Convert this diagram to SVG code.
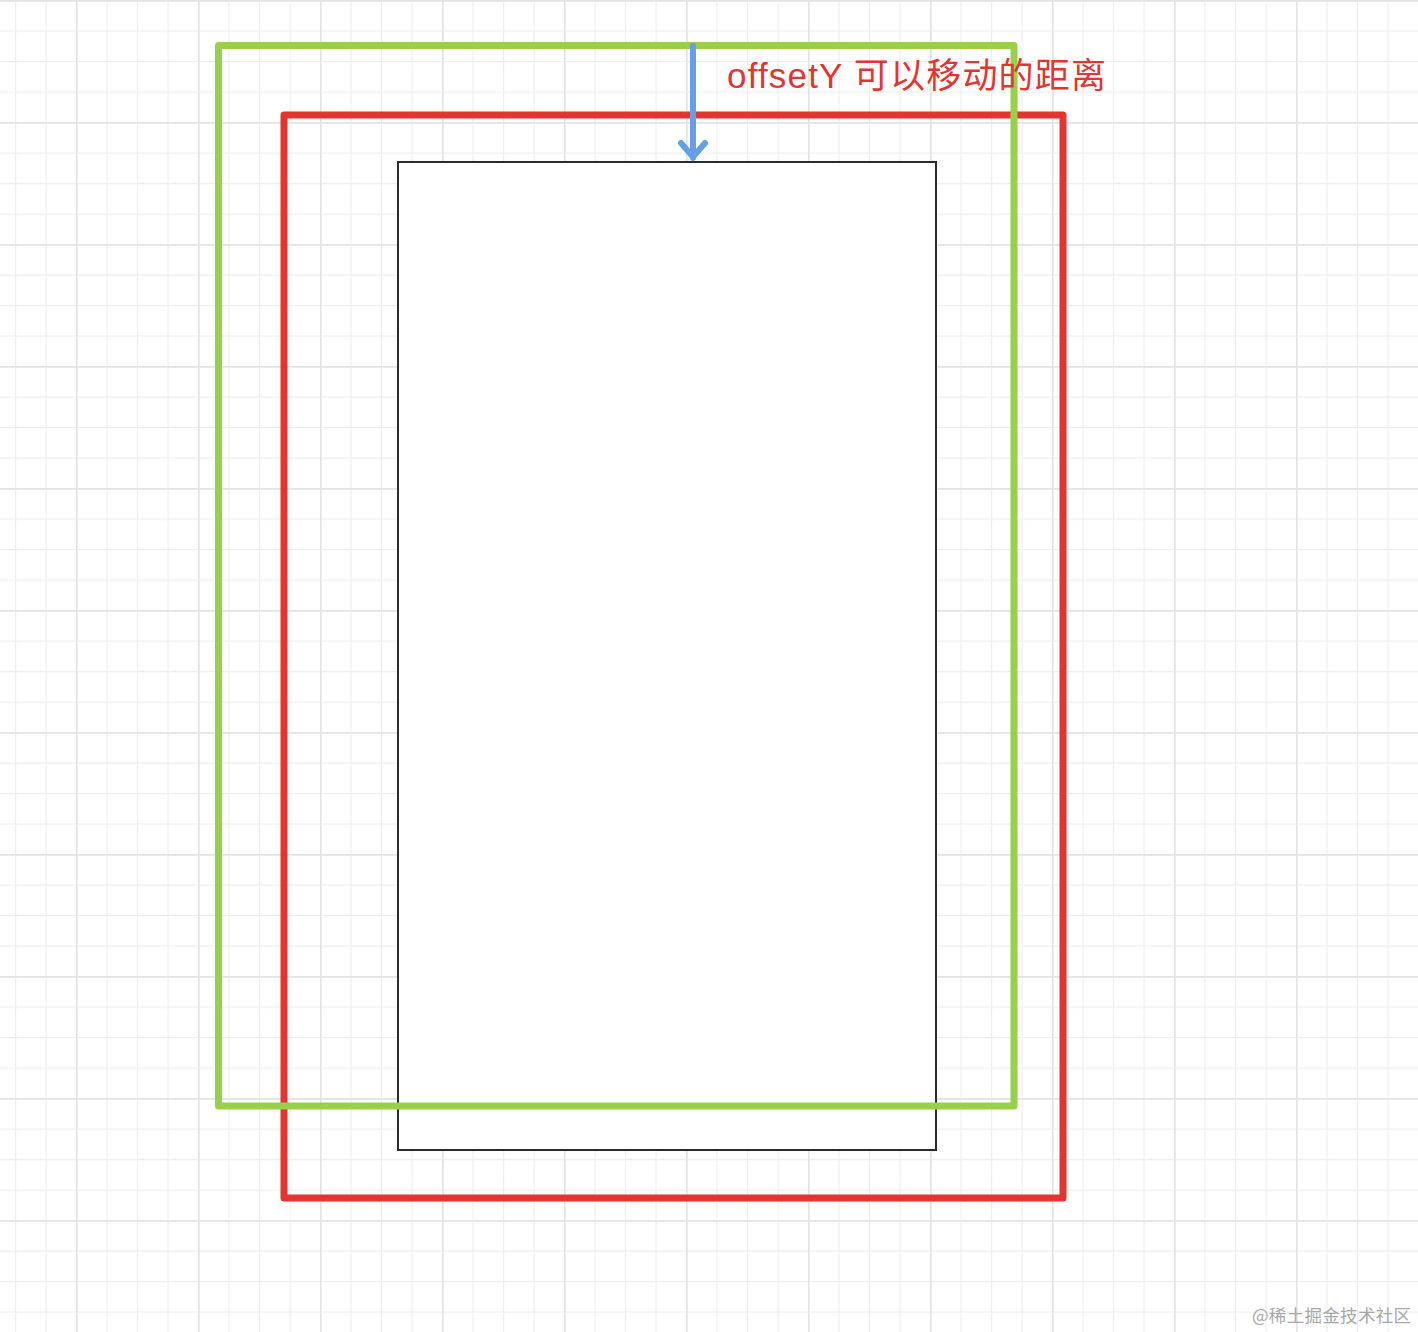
<svg xmlns="http://www.w3.org/2000/svg" width="1418" height="1332" viewBox="0 0 1418 1332">
<defs>
<pattern id="minor" x="15" y="0" width="30.5" height="30.5" patternUnits="userSpaceOnUse">
<path d="M0.5 0 V30.5 M0 0.5 H30.5" fill="none" stroke="#eeeeee" stroke-width="1.3"/>
</pattern>
<pattern id="major" x="76" y="0" width="122" height="122" patternUnits="userSpaceOnUse">
<path d="M0.75 0 V122 M0 0.75 H122" fill="none" stroke="#e4e4e4" stroke-width="1.8"/>
</pattern>
</defs>
<style>
.box{fill:none;stroke-width:7;stroke-linejoin:round}
.red{stroke:#e2352f}
.green{stroke:#99d04b}
.inner{fill:#ffffff;stroke:#2b2b2b;stroke-width:2}
.arrow{fill:none;stroke:#67a0e2;stroke-width:6;stroke-linecap:round;stroke-linejoin:round}
.label{font-family:"Liberation Sans","Noto Sans CJK SC",sans-serif;font-size:35px;fill:#e2352f}
.wm{font-family:"Noto Sans CJK SC",sans-serif;font-size:17.5px;fill:#a8a8a8}
</style>
<rect width="1418" height="1332" fill="#ffffff"/>
<rect width="1418" height="1332" fill="url(#minor)"/>
<rect width="1418" height="1332" fill="url(#major)"/>
<g id="red-frame"><rect class="box red" x="284" y="115" width="779" height="1083"/></g>
<g id="inner-box"><rect class="inner" x="398" y="162" width="538" height="988"/></g>
<g id="green-frame"><rect class="box green" x="218.5" y="45.5" width="795.5" height="1060.5"/></g>
<g id="connectors"><path class="arrow" d="M693 46 V158 M681 143 L693 157 L705 143"/></g>
<g id="label"><text class="label" x="727" y="88" textLength="379" lengthAdjust="spacing">offsetY 可以移动的距离</text></g>
<text class="wm" x="1252" y="1322" textLength="159" lengthAdjust="spacing">@稀土掘金技术社区</text>
</svg>
